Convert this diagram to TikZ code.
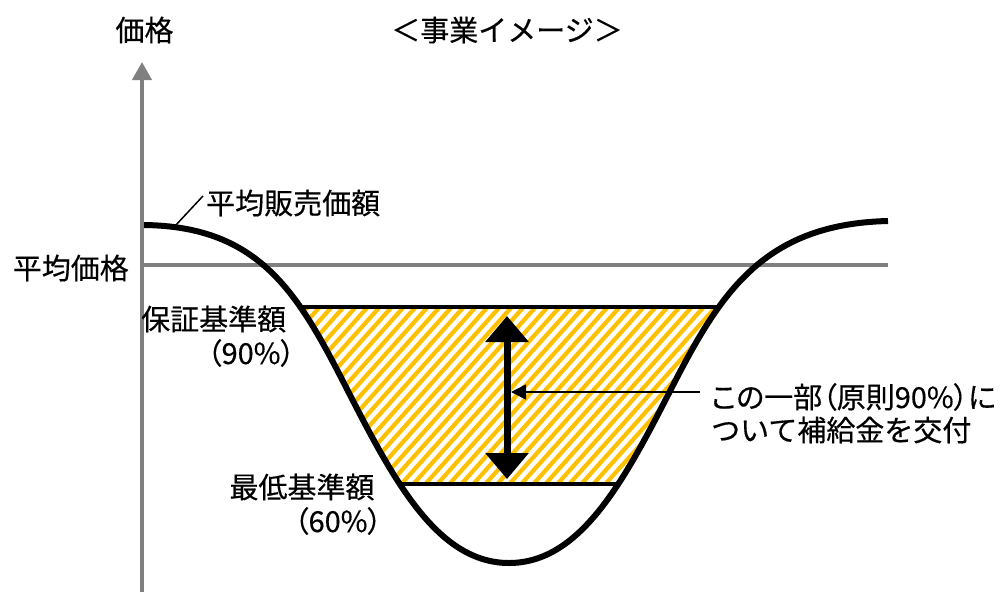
\documentclass[tikz,border=0pt]{standalone}
\usepackage{fontspec}
\newfontfamily\jp{Noto Sans CJK JP}[FakeBold=0.4]
\newfontfamily\jpp{Noto Sans CJK JP}[FakeBold=0.4,RawFeature=+palt]
\usetikzlibrary{arrows.meta}
\definecolor{axisgray}{HTML}{808080}
\definecolor{hatch}{HTML}{FFC000}
\tikzset{
  lbl/.style={inner sep=0pt, font=\jp\fontsize{29}{34}\selectfont},
  lblp/.style={inner sep=0pt, font=\jpp\fontsize{29}{34}\selectfont},
  curveline/.style={line width=6pt, black},
  levelline/.style={line width=4pt, black},
  leader/.style={line width=1.5pt, black},
}
\begin{document}
\begin{tikzpicture}[x=1pt,y=-1pt]
\useasboundingbox (0,0) rectangle (1001,592);
% hatched band
\begin{scope}
  \clip (143,225) .. controls (263,226) and (300,297) .. (350,395)
        .. controls (395.6,484) and (439,563) .. (509,563)
        .. controls (579,563) and (622.4,484) .. (668,395)
        .. controls (718,297) and (760,224) .. (888,221) -- cycle;
  \begin{scope}
    \clip (0,307) rectangle (1001,484);
    \foreach \i in {0,...,60} {
      \draw[hatch, line width=4.2pt] ({120+12*\i},490) -- ({120+12*\i+170},300);
    }
  \end{scope}
  \coordinate (tl) at (0,307);
  \coordinate (tr) at (1001,307);
  \coordinate (bl) at (0,484);
  \coordinate (br) at (1001,484);
  \draw[levelline] (tl) -- (tr);
  \draw[levelline] (bl) -- (br);
\end{scope}
% average line
\coordinate (avgL) at (142,265);
\coordinate (avgR) at (888,265);
\draw[axisgray, line width=4pt] (avgL) -- (avgR);
% curve
\draw[curveline] (143,225) .. controls (263,226) and (300,297) .. (350,395)
        .. controls (395.6,484) and (439,563) .. (509,563)
        .. controls (579,563) and (622.4,484) .. (668,395)
        .. controls (718,297) and (760,224) .. (888,221);
% axis
\coordinate (axB) at (142,592);
\coordinate (axT) at (142,62);
\draw[axisgray, line width=4pt, -{Triangle[width=19pt,length=18pt]}] (axB) -- (axT);
% double arrow
\coordinate (dTop) at (507,316);
\coordinate (dBot) at (507,479);
\draw[line width=7pt, {Triangle[width=42pt,length=26pt]}-{Triangle[width=42pt,length=26pt]}] (dTop) -- (dBot);
% labels
\node[lbl] (price) at (144.5,30) {価格};
\node[lbl] (title) at (507,30) {＜事業イメージ＞};
\node[lbl, anchor=east] (avgprice) at (129,268) {平均価格};
\node[lbl, anchor=west] (sales) at (206,203) {平均販売価額};
\node[lbl, anchor=west] (hosho) at (141,319) {保証基準額};
\node[lblp] (p90) at (251,353) {（90\%）};
\node[lbl] (saitei) at (302,487) {最低基準額};
\node[lblp] (p60) at (338,521) {（60\%）};
\node[lblp, anchor=west] (note1) at (711,397) {この一部（原則90\%）に};
\node[lbl, anchor=west] (note2) at (711,430) {ついて補給金を交付};
% leaders
\coordinate (salesOnCurve) at (175,226);
\coordinate (salesEnd) at (203,196);
\draw[leader] (salesOnCurve) -- (salesEnd);
\coordinate (noteStart) at (700,392);
\coordinate (noteTip) at (511,392);
\draw[leader, -{Triangle[width=15pt,length=15pt]}] (noteStart) -- (noteTip);
\end{tikzpicture}
\end{document}
